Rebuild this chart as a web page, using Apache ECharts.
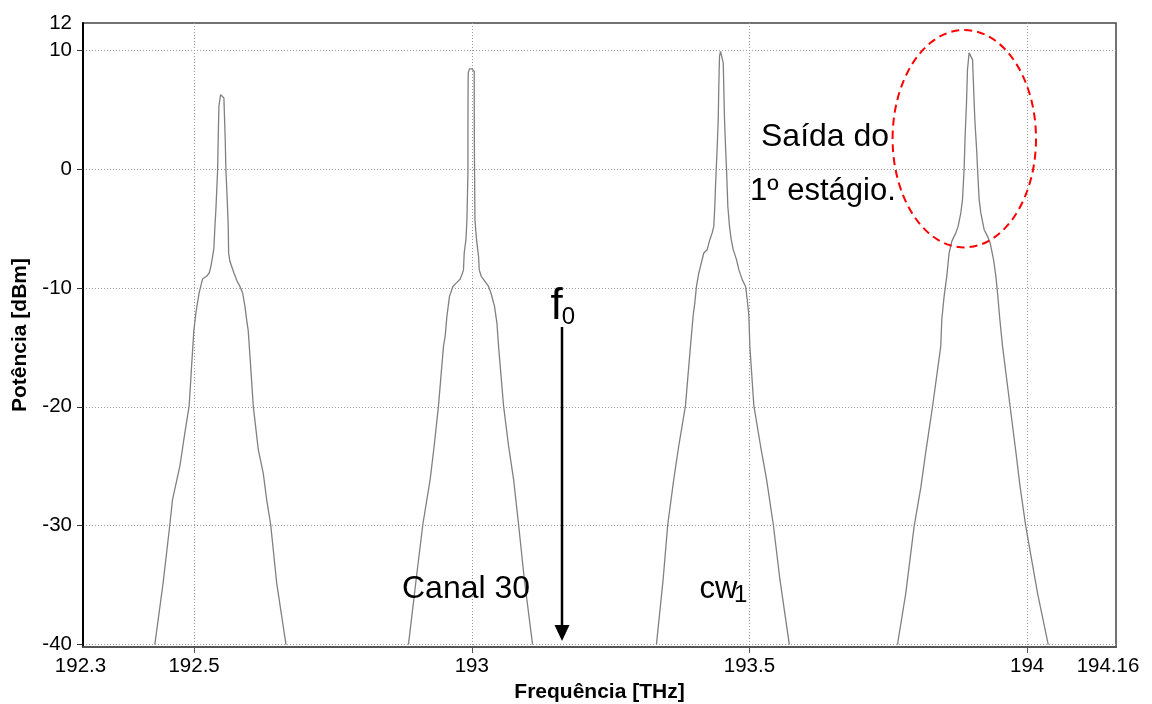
<!DOCTYPE html>
<html>
<head>
<meta charset="utf-8">
<script src="https://cdn.jsdelivr.net/npm/echarts@6/dist/echarts.min.js"></script>
<style>
  html, body { margin: 0; padding: 0; background: #fff; }
  #chart { width: 1152px; height: 704px; }
</style>
</head>
<body>
<div id="chart"></div>
<script>
// ---- axis ticks / labels ----
const xTickLabels = [192.3, 192.5, 193, 193.5, 194, 194.16];
const xGridValues = [192.5, 193, 193.5, 194];
const yGridValues = [-40, -30, -20, -10, 0, 10];
const yTopLabel = '12';
const xMin = 192.3, xMax = 194.16;
const yMin = -40.2, yMax = 12.27;

// ---- spectrum trace, peak 1 (~192.55 THz) ----
const peak1Freq = [192.4293,192.4443,192.4564,192.4612,192.4744,192.4834,192.4912,192.4955,192.4996,192.5032,192.5092,192.5153,192.5225,192.5272,192.5303,192.5334,192.5357,192.5375,192.5393,192.5424,192.5434,192.5447,192.5478,192.5501,192.5537,192.5561,192.5573,192.5597,192.5615,192.5622,192.5645,192.5718,192.5777,192.5826,192.5874,192.5916,192.5946,192.5975,192.6019,192.6065,192.6156,192.6246,192.6307,192.6379,192.6487,192.6655];
const peak1Power = [-40,-34.8,-29.9,-27.8,-25.0,-22.2,-19.9,-16.6,-13.6,-12.1,-10.4,-9.25,-9.03,-8.75,-8.19,-7.35,-6.65,-4.83,-3.42,-0.06,2.46,5.27,6.25,6.39,5.97,2.46,-0.06,-2.58,-4.83,-7.07,-7.77,-8.75,-9.46,-9.88,-10.43,-11.56,-12.68,-13.6,-16.6,-19.9,-23.6,-25.6,-27.8,-29.9,-34.8,-40];

// ---- peak 2 (Canal 30, ~193.0 THz) ----
const peak2Freq = [192.8860,192.8999,192.9119,192.9251,192.9323,192.9401,192.9491,192.9521,192.9552,192.9599,192.9660,192.9732,192.9792,192.9833,192.9851,192.9864,192.9895,192.9913,192.9931,192.9932,192.9936,192.9959,193.0003,193.0044,193.0046,193.0057,193.0086,193.0122,193.0134,193.0170,193.0225,193.0302,193.0345,193.0410,193.0453,193.0482,193.0572,193.0663,193.0753,193.0843,193.0946,193.1095];
const peak2Power = [-40,-34.5,-29.9,-26.1,-23.3,-19.9,-14.9,-14.08,-12.4,-10.72,-9.88,-9.54,-9.25,-8.75,-8.47,-7.07,-5.95,-4.27,-0.34,5.27,8.08,8.41,8.41,8.21,2.46,-4.27,-5.95,-7.35,-8.47,-9.03,-9.37,-9.88,-10.43,-11.56,-12.96,-14.9,-19.9,-23.3,-26.1,-29.9,-34.5,-40];

// ---- peak 3 (cw1, ~193.45 THz) ----
const peak3Freq = [193.3325,193.3446,193.3529,193.3637,193.3727,193.3848,193.3938,193.3987,193.4016,193.4046,193.4088,193.4118,193.4178,193.4239,193.4286,193.4329,193.4358,193.4376,193.4389,193.4402,193.4420,193.4438,193.4448,193.4461,193.4479,193.4497,193.4528,193.4551,193.4569,193.4587,193.4611,193.4641,193.4672,193.4708,193.4767,193.4809,193.4870,193.4930,193.4960,193.4989,193.5007,193.5079,193.5200,193.5308,193.5429,193.5548,193.5718];
const peak3Power = [-40,-34.5,-29.9,-26.1,-23.3,-19.9,-14.9,-12.3,-11.27,-9.88,-8.75,-8.19,-7.07,-6.79,-5.95,-5.38,-4.83,-3.15,-1.46,0,1.9,4.15,6.95,9.47,9.89,9.81,8.92,4.15,1.9,0,-3.15,-4.83,-5.95,-6.79,-7.63,-8.47,-9.31,-9.88,-11.0,-12.3,-14.9,-19.9,-23.3,-26.1,-29.9,-34.5,-40];

// ---- peak 4 (~193.9 THz) ----
const peak4Freq = [193.7665,193.7814,193.7964,193.8085,193.8175,193.8296,193.8445,193.8463,193.8505,193.8553,193.8595,193.8643,193.8716,193.8757,193.8806,193.8836,193.8865,193.8883,193.8908,193.8926,193.8955,193.8986,193.9017,193.9035,193.9058,193.9094,193.9107,193.9136,193.9166,193.9226,193.9287,193.9334,193.9395,193.9437,193.9467,193.9509,193.9557,193.9694,193.9797,193.9875,193.9977,194.0188,194.0380];
const peak4Power = [-40,-35.7,-30.1,-26.8,-23.8,-20,-14.9,-12.68,-10.72,-9.03,-7.07,-6.09,-5.38,-4.83,-3.70,-2.58,0,2.74,5.55,8.35,9.76,9.84,9.19,6.95,4.15,1.35,0,-2.58,-3.70,-5.11,-5.67,-6.23,-7.63,-9.03,-10.43,-12.68,-14.9,-20,-23.8,-26.8,-30.1,-35.7,-40];

const FONT = '"Liberation Sans", Arial, Helvetica, sans-serif';
const TRACE = '#808080';

function zip(f, p) { return f.map((v, i) => [v, p[i]]); }
function traceSeries(name, f, p) {
  return {
    name: name, type: 'line', data: zip(f, p), showSymbol: false, symbol: 'none',
    lineStyle: { color: TRACE, width: 1.3 }, clip: true, animation: false, z: 3
  };
}

const chart = echarts.init(document.getElementById('chart'), null, { renderer: 'canvas' });
chart.setOption({
  animation: false,
  backgroundColor: '#ffffff',
  grid: {
    left: 83, right: 36, top: 23, bottom: 57,
    show: true, borderColor: '#444', borderWidth: 1.5, backgroundColor: 'transparent',
    outerBoundsMode: 'none'
  },
  xAxis: {
    type: 'value', min: xMin, max: xMax,
    name: 'Frequência [THz]', nameLocation: 'middle', nameGap: 33,
    nameTextStyle: { fontFamily: FONT, fontSize: 21, fontWeight: 'bold', color: '#000' },
    axisLine: { show: true, onZero: false, lineStyle: { color: '#555', width: 2 } },
    axisTick: { show: true, customValues: xGridValues, length: 6, lineStyle: { color: '#555', width: 1 } },
    axisLabel: {
      customValues: xTickLabels, margin: 9, fontFamily: FONT, fontSize: 20.5, color: '#000',
      hideOverlap: false, showMinLabel: true, showMaxLabel: true,
      formatter: function (v) {
        const s = String(+v.toFixed(2));
        if (Math.abs(v - xMax) < 1e-6) return '{r|' + s + '}';
        if (Math.abs(v - xMin) < 1e-6) return '{l|' + s + '}';
        return s;
      },
      rich: {
        r: { fontFamily: FONT, fontSize: 20.5, color: '#000', padding: [0, 16, 0, 0] },
        l: { fontFamily: FONT, fontSize: 20.5, color: '#000', padding: [0, 5, 0, 0] }
      }
    },
    splitLine: { show: true, lineStyle: { color: '#9a9a9a', width: 1, type: [1, 2] } }
  },
  yAxis: {
    type: 'value', min: yMin, max: yMax,
    name: 'Potência [dBm]', nameLocation: 'middle', nameGap: 52, nameRotate: 90,
    nameTextStyle: { fontFamily: FONT, fontSize: 21, fontWeight: 'bold', color: '#000' },
    axisLine: { show: true, onZero: false, lineStyle: { color: '#000', width: 2 } },
    axisTick: { show: true, customValues: yGridValues, length: 6, lineStyle: { color: '#333', width: 1 } },
    axisLabel: {
      customValues: yGridValues.concat([yMax]), margin: 11, fontFamily: FONT, fontSize: 20.5, color: '#000',
      showMinLabel: true, showMaxLabel: true, hideOverlap: false,
      formatter: function (v) {
        if (Math.abs(v - yMax) < 1e-6) return yTopLabel;
        return String(Math.round(v));
      }
    },
    splitLine: { show: true, lineStyle: { color: '#9a9a9a', width: 1, type: [1, 2] } }
  },
  series: [
    traceSeries('p1', peak1Freq, peak1Power),
    traceSeries('p2', peak2Freq, peak2Power),
    traceSeries('p3', peak3Freq, peak3Power),
    traceSeries('p4', peak4Freq, peak4Power)
  ],
  graphic: [
    { type: 'ellipse', z: 10, shape: { cx: 964.3, cy: 138.7, rx: 71.7, ry: 108.7 },
      style: { fill: 'none', stroke: '#ff0000', lineWidth: 2, lineDash: [8, 5] } },
    { type: 'line', z: 10, shape: { x1: 562, y1: 327, x2: 562, y2: 627 },
      style: { stroke: '#000', lineWidth: 2.5 } },
    { type: 'polygon', z: 10, shape: { points: [[554.5, 625], [569.5, 625], [562, 641]] },
      style: { fill: '#000' } },
    { type: 'text', z: 10, x: 761, y: 136.7,
      style: { text: 'Saída do', fontFamily: FONT, fontSize: 32, fill: '#000', align: 'left', verticalAlign: 'middle' } },
    { type: 'text', z: 10, x: 750, y: 191.1,
      style: { text: '1º estágio.', fontFamily: FONT, fontSize: 31, fill: '#000', align: 'left', verticalAlign: 'middle' } },
    { type: 'text', z: 10, x: 402, y: 589.3,
      style: { text: 'Canal 30', fontFamily: FONT, fontSize: 32, fill: '#000', align: 'left', verticalAlign: 'middle' } },
    { type: 'text', z: 10, x: 699.5, y: 589.3,
      style: { text: 'cw', fontFamily: FONT, fontSize: 31, fill: '#000', align: 'left', verticalAlign: 'middle' } },
    { type: 'text', z: 10, x: 734, y: 595,
      style: { text: '1', fontFamily: FONT, fontSize: 24, fill: '#000', align: 'left', verticalAlign: 'middle' } },
    { type: 'text', z: 10, x: 550.5, y: 306.5,
      style: { text: 'f', fontFamily: FONT, fontSize: 44, fill: '#000', align: 'left', verticalAlign: 'middle' } },
    { type: 'text', z: 10, x: 561.7, y: 317.7,
      style: { text: '0', fontFamily: FONT, fontSize: 24, fill: '#000', align: 'left', verticalAlign: 'middle' } }
  ]
});
</script>
</body>
</html>
